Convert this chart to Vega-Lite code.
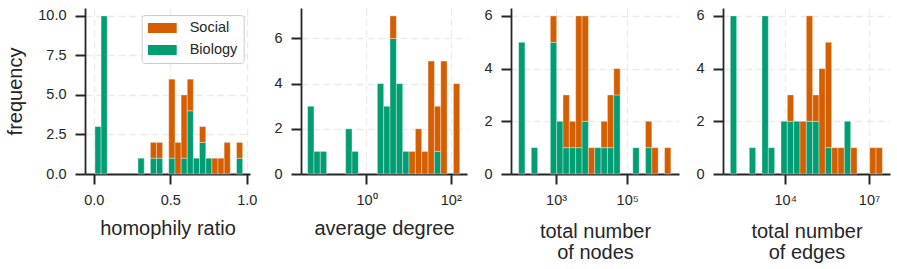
{
  "$schema": "https://vega.github.io/schema/vega-lite/v6.json",
  "padding": {"left": 5, "top": 7, "right": 5, "bottom": 0},
  "spacing": 16,
  "datasets": {
    "homophily": [
      {"lo": 0.008, "hi": 0.048, "group": "Biology", "count": 3},
      {"lo": 0.048, "hi": 0.088, "group": "Biology", "count": 10},
      {"lo": 0.289, "hi": 0.330, "group": "Biology", "count": 1},
      {"lo": 0.370, "hi": 0.410, "group": "Biology", "count": 1},
      {"lo": 0.370, "hi": 0.410, "group": "Social", "count": 1},
      {"lo": 0.410, "hi": 0.450, "group": "Biology", "count": 1},
      {"lo": 0.410, "hi": 0.450, "group": "Social", "count": 1},
      {"lo": 0.490, "hi": 0.531, "group": "Biology", "count": 1},
      {"lo": 0.490, "hi": 0.531, "group": "Social", "count": 5},
      {"lo": 0.531, "hi": 0.571, "group": "Social", "count": 2},
      {"lo": 0.571, "hi": 0.611, "group": "Biology", "count": 1},
      {"lo": 0.571, "hi": 0.611, "group": "Social", "count": 4},
      {"lo": 0.611, "hi": 0.651, "group": "Biology", "count": 4},
      {"lo": 0.611, "hi": 0.651, "group": "Social", "count": 2},
      {"lo": 0.651, "hi": 0.691, "group": "Biology", "count": 1},
      {"lo": 0.691, "hi": 0.732, "group": "Biology", "count": 2},
      {"lo": 0.691, "hi": 0.732, "group": "Social", "count": 1},
      {"lo": 0.732, "hi": 0.772, "group": "Biology", "count": 1},
      {"lo": 0.772, "hi": 0.812, "group": "Social", "count": 1},
      {"lo": 0.812, "hi": 0.852, "group": "Social", "count": 1},
      {"lo": 0.852, "hi": 0.892, "group": "Social", "count": 2},
      {"lo": 0.933, "hi": 0.973, "group": "Biology", "count": 1},
      {"lo": 0.933, "hi": 0.973, "group": "Social", "count": 1}
    ],
    "degree": [
      {"lo": 0.0400, "hi": 0.0566, "group": "Biology", "count": 3},
      {"lo": 0.0566, "hi": 0.0800, "group": "Biology", "count": 1},
      {"lo": 0.0800, "hi": 0.1131, "group": "Biology", "count": 1},
      {"lo": 0.3199, "hi": 0.4523, "group": "Biology", "count": 2},
      {"lo": 0.4523, "hi": 0.6397, "group": "Biology", "count": 1},
      {"lo": 1.809, "hi": 2.559, "group": "Biology", "count": 4},
      {"lo": 2.559, "hi": 3.618, "group": "Biology", "count": 3},
      {"lo": 3.618, "hi": 5.117, "group": "Biology", "count": 6},
      {"lo": 3.618, "hi": 5.117, "group": "Social", "count": 1},
      {"lo": 5.117, "hi": 7.236, "group": "Biology", "count": 4},
      {"lo": 7.236, "hi": 10.23, "group": "Biology", "count": 1},
      {"lo": 10.23, "hi": 14.47, "group": "Social", "count": 1},
      {"lo": 14.47, "hi": 20.46, "group": "Social", "count": 2},
      {"lo": 20.46, "hi": 28.94, "group": "Social", "count": 1},
      {"lo": 28.94, "hi": 40.93, "group": "Social", "count": 5},
      {"lo": 40.93, "hi": 57.88, "group": "Biology", "count": 1},
      {"lo": 40.93, "hi": 57.88, "group": "Social", "count": 2},
      {"lo": 57.88, "hi": 81.85, "group": "Social", "count": 5},
      {"lo": 115.7, "hi": 163.7, "group": "Social", "count": 4}
    ],
    "nodes": [
      {"lo": 88.31, "hi": 133.2, "group": "Biology", "count": 5},
      {"lo": 200.9, "hi": 303.0, "group": "Biology", "count": 1},
      {"lo": 689.5, "hi": 1040, "group": "Biology", "count": 5},
      {"lo": 689.5, "hi": 1040, "group": "Social", "count": 1},
      {"lo": 1040, "hi": 1569, "group": "Biology", "count": 2},
      {"lo": 1569, "hi": 2366, "group": "Biology", "count": 1},
      {"lo": 1569, "hi": 2366, "group": "Social", "count": 2},
      {"lo": 2366, "hi": 3568, "group": "Biology", "count": 1},
      {"lo": 2366, "hi": 3568, "group": "Social", "count": 1},
      {"lo": 3568, "hi": 5383, "group": "Biology", "count": 1},
      {"lo": 3568, "hi": 5383, "group": "Social", "count": 5},
      {"lo": 5383, "hi": 8121, "group": "Biology", "count": 2},
      {"lo": 5383, "hi": 8121, "group": "Social", "count": 4},
      {"lo": 8121, "hi": 12250, "group": "Social", "count": 1},
      {"lo": 12250, "hi": 18470, "group": "Biology", "count": 1},
      {"lo": 18470, "hi": 27860, "group": "Biology", "count": 1},
      {"lo": 18470, "hi": 27860, "group": "Social", "count": 1},
      {"lo": 27860, "hi": 42030, "group": "Biology", "count": 1},
      {"lo": 27860, "hi": 42030, "group": "Social", "count": 2},
      {"lo": 42030, "hi": 63390, "group": "Biology", "count": 3},
      {"lo": 42030, "hi": 63390, "group": "Social", "count": 1},
      {"lo": 144200, "hi": 217500, "group": "Biology", "count": 1},
      {"lo": 328100, "hi": 494900, "group": "Biology", "count": 1},
      {"lo": 328100, "hi": 494900, "group": "Social", "count": 1},
      {"lo": 494900, "hi": 746400, "group": "Social", "count": 1},
      {"lo": 1126000, "hi": 1698000, "group": "Social", "count": 1}
    ],
    "edges": [
      {"lo": 108.6, "hi": 183.1, "group": "Biology", "count": 6},
      {"lo": 520.1, "hi": 876.7, "group": "Biology", "count": 1},
      {"lo": 1477, "hi": 2490, "group": "Biology", "count": 6},
      {"lo": 2490, "hi": 4197, "group": "Biology", "count": 1},
      {"lo": 7074, "hi": 11920, "group": "Biology", "count": 2},
      {"lo": 11920, "hi": 20090, "group": "Biology", "count": 2},
      {"lo": 11920, "hi": 20090, "group": "Social", "count": 1},
      {"lo": 20090, "hi": 33870, "group": "Biology", "count": 2},
      {"lo": 33870, "hi": 57080, "group": "Social", "count": 2},
      {"lo": 57080, "hi": 96180, "group": "Biology", "count": 2},
      {"lo": 57080, "hi": 96180, "group": "Social", "count": 4},
      {"lo": 96180, "hi": 162100, "group": "Biology", "count": 2},
      {"lo": 96180, "hi": 162100, "group": "Social", "count": 1},
      {"lo": 162100, "hi": 273300, "group": "Social", "count": 4},
      {"lo": 273300, "hi": 460500, "group": "Biology", "count": 1},
      {"lo": 273300, "hi": 460500, "group": "Social", "count": 4},
      {"lo": 460500, "hi": 776200, "group": "Social", "count": 1},
      {"lo": 776200, "hi": 1308000, "group": "Social", "count": 1},
      {"lo": 1308000, "hi": 2204000, "group": "Biology", "count": 2},
      {"lo": 2204000, "hi": 3715000, "group": "Social", "count": 1},
      {"lo": 10550000, "hi": 17790000, "group": "Social", "count": 1},
      {"lo": 17790000, "hi": 29990000, "group": "Social", "count": 1}
    ]
  },
  "config": {
    "view": {"stroke": null},
    "font": "Liberation Sans",
    "axis": {
      "domain": true, "ticks": true,
      "domainColor": "#262626", "domainWidth": 1.8,
      "tickColor": "#262626", "tickWidth": 2, "tickSize": 10, "tickOpacity": 1,
      "labelFont": "Liberation Sans", "labelFontSize": 14.5, "labelColor": "#262626",
      "titleFont": "Liberation Sans", "titleFontSize": 20, "titleFontWeight": "normal", "titleColor": "#262626",
      "gridColor": "#ebebeb", "gridDash": [7, 4], "gridWidth": 1.3,
      "labelFlush": false, "labelOverlap": false, "labelBound": false
    },
    "axisX": {"labelPadding": 9, "ticks": true, "tickSize": 10, "tickColor": "#262626", "tickWidth": 2},
    "axisY": {"labelPadding": 9}
  },
  "resolve": {
    "scale": {"x": "independent", "y": "independent", "color": "independent"},
    "legend": {"color": "independent"}
  },
  "hconcat": [
    {
      "width": 165, "height": 166,
      "data": {"name": "homophily"},
      "transform": [{"stack": "count", "groupby": ["lo"], "sort": [{"field": "group", "order": "ascending"}], "as": ["y0", "y1"]}],
      "mark": {"type": "rect", "stroke": "#ffffff", "strokeWidth": 0.6, "strokeOpacity": 0.6},
      "encoding": {
        "x": {"field": "lo", "type": "quantitative",
              "scale": {"domain": [-0.057, 1.021], "nice": false, "zero": false},
              "axis": {"values": [0, 0.5, 1], "format": ".1f", "title": "homophily ratio", "domain": true, "ticks": true, "tickSize": 10,
                       "titleY": 60.3, "titleBaseline": "alphabetic", "grid": true}},
        "x2": {"field": "hi"},
        "y": {"field": "y1", "type": "quantitative",
              "scale": {"domain": [0, 10.5], "nice": false},
              "axis": {"values": [0, 2.5, 5, 7.5, 10], "format": ".1f", "title": "frequency", "domain": true, "ticks": true,
                       "titleX": -64, "titleY": 83, "titleAngle": 270, "titleAlign": "center",
                       "titleBaseline": "alphabetic", "grid": true}},
        "y2": {"field": "y0"},
        "color": {"field": "group", "type": "nominal",
                  "scale": {"domain": ["Social", "Biology"], "range": ["#d55e00", "#029e73"]},
                  "legend": {"title": null, "orient": "none", "legendX": 56.7, "legendY": 7,
                             "symbolType": "M-1,-0.345H1V0.345H-1Z", "symbolSize": 841,
                             "symbolStrokeWidth": 0, "clipHeight": 14,
                             "labelFontSize": 14.5, "labelColor": "#262626", "labelOffset": 13,
                             "rowPadding": 7, "padding": 6,
                             "fillColor": "rgba(255,255,255,0.8)", "strokeColor": "#cccccc",
                             "cornerRadius": 3}}
      }
    },
    {
      "width": 166, "height": 166,
      "data": {"name": "degree"},
      "transform": [{"stack": "count", "groupby": ["lo"], "sort": [{"field": "group", "order": "ascending"}], "as": ["y0", "y1"]}],
      "mark": {"type": "rect", "stroke": "#ffffff", "strokeWidth": 0.6, "strokeOpacity": 0.6},
      "encoding": {
        "x": {"field": "lo", "type": "quantitative",
              "scale": {"type": "log", "domain": [0.02786, 243.2], "nice": false},
              "axis": {"values": [1, 100], "labelExpr": "datum.value == 1 ? '10⁰' : '10²'", "domain": true, "ticks": true, "tickSize": 10,
                       "title": "average degree", "titleY": 60.3, "titleBaseline": "alphabetic", "grid": true}},
        "x2": {"field": "hi"},
        "y": {"field": "y1", "type": "quantitative",
              "scale": {"domain": [0, 7.35], "nice": false},
              "axis": {"values": [0, 2, 4, 6], "title": null, "grid": true, "domain": true, "ticks": true}},
        "y2": {"field": "y0"},
        "color": {"field": "group", "type": "nominal",
                  "scale": {"domain": ["Social", "Biology"], "range": ["#d55e00", "#029e73"]},
                  "legend": null}
      }
    },
    {
      "width": 168, "height": 166,
      "data": {"name": "nodes"},
      "transform": [{"stack": "count", "groupby": ["lo"], "sort": [{"field": "group", "order": "ascending"}], "as": ["y0", "y1"]}],
      "mark": {"type": "rect", "stroke": "#ffffff", "strokeWidth": 0.6, "strokeOpacity": 0.6},
      "encoding": {
        "x": {"field": "lo", "type": "quantitative",
              "scale": {"type": "log", "domain": [53.95, 2877000], "nice": false},
              "axis": {"values": [1000, 100000], "labelExpr": "datum.value == 1000 ? '10³' : '10⁵'", "domain": true, "ticks": true, "tickSize": 10,
                       "title": ["total number", "of nodes"], "titleLineHeight": 21,
                       "titleY": 63.7, "titleBaseline": "alphabetic", "grid": true}},
        "x2": {"field": "hi"},
        "y": {"field": "y1", "type": "quantitative",
              "scale": {"domain": [0, 6.3], "nice": false},
              "axis": {"values": [0, 2, 4, 6], "title": null, "grid": true, "domain": true, "ticks": true}},
        "y2": {"field": "y0"},
        "color": {"field": "group", "type": "nominal",
                  "scale": {"domain": ["Social", "Biology"], "range": ["#d55e00", "#029e73"]},
                  "legend": null}
      }
    },
    {
      "width": 167, "height": 166,
      "data": {"name": "edges"},
      "transform": [{"stack": "count", "groupby": ["lo"], "sort": [{"field": "group", "order": "ascending"}], "as": ["y0", "y1"]}],
      "mark": {"type": "rect", "stroke": "#ffffff", "strokeWidth": 0.6, "strokeOpacity": 0.6},
      "encoding": {
        "x": {"field": "lo", "type": "quantitative",
              "scale": {"type": "log", "domain": [59.57, 56230000], "nice": false},
              "axis": {"values": [10000, 10000000], "labelExpr": "datum.value == 10000 ? '10⁴' : '10⁷'", "domain": true, "ticks": true, "tickSize": 10,
                       "title": ["total number", "of edges"], "titleLineHeight": 21,
                       "titleY": 63.7, "titleBaseline": "alphabetic", "grid": true}},
        "x2": {"field": "hi"},
        "y": {"field": "y1", "type": "quantitative",
              "scale": {"domain": [0, 6.3], "nice": false},
              "axis": {"values": [0, 2, 4, 6], "title": null, "grid": true, "domain": true, "ticks": true}},
        "y2": {"field": "y0"},
        "color": {"field": "group", "type": "nominal",
                  "scale": {"domain": ["Social", "Biology"], "range": ["#d55e00", "#029e73"]},
                  "legend": null}
      }
    }
  ]
}
